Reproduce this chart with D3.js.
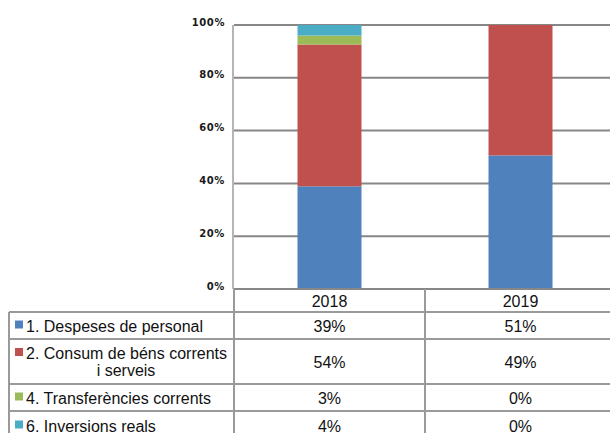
<!DOCTYPE html>
<html lang="ca">
<head>
<meta charset="UTF-8">
<title>Despeses</title>
<script src="https://d3js.org/d3.v7.min.js"></script>
<style>
  body { margin: 0; background: #fff; }
  svg { display: block; font-family: "Liberation Sans", Arial, sans-serif; }
  .tick-lbl { font-family: "DejaVu Sans", sans-serif; font-size: 10px; font-weight: bold; letter-spacing: 0.6px; fill: #1a1a1a; }
  .cell { font-size: 16px; fill: #111; }
</style>
</head>
<body>
<svg width="610" height="433"></svg>
<script>
const years = ["2018", "2019"];
const series = [
  "1. Despeses de personal",
  "2. Consum de béns corrents i serveis",
  "4. Transferències corrents",
  "6. Inversions reals"
];
const labelLines = [
  ["1. Despeses de personal"],
  ["2. Consum de béns corrents", "i serveis"],
  ["4. Transferències corrents"],
  ["6. Inversions reals"]
];
const values2018 = [38.9, 53.7, 3.4, 4.0];
const values2019 = [50.6, 49.4, 0, 0];
const tableText2018 = ["39%", "54%", "3%", "4%"];
const tableText2019 = ["51%", "49%", "0%", "0%"];
const yTicks = [0, 20, 40, 60, 80, 100];
const colors = ["#4F81BD", "#C0504D", "#9BBB59", "#4BACC6"];

const svg = d3.select("svg");

// plot area
const plotL = 234, plotR = 616, plotT = 25, plotB = 289;
const tableLeft = 9;
const rowEdges = [289, 312, 339, 384, 411, 440];

const x = d3.scaleBand().domain(years).range([plotL, plotR]).padding(0);
const y = d3.scaleLinear().domain([0, 100]).range([plotB, plotT]);
const barW = x.bandwidth() * 0.335;

// gridlines
svg.append("g")
  .selectAll("line")
  .data(yTicks.filter(d => d > 0))
  .join("line")
  .attr("x1", plotL).attr("x2", plotR)
  .attr("y1", d => y(d)).attr("y2", d => y(d))
  .attr("stroke", "#878787").attr("stroke-width", 2);

// stacked bars
const rows = years.map((yr, i) => {
  const vals = i === 0 ? values2018 : values2019;
  const row = { year: yr };
  series.forEach((s, j) => row[s] = vals[j]);
  return row;
});
const stacked = d3.stack().keys(series)(rows);

svg.append("g")
  .selectAll("g")
  .data(stacked)
  .join("g")
  .attr("fill", (d, i) => colors[i])
  .selectAll("rect")
  .data(d => d)
  .join("rect")
  .attr("x", d => x(d.data.year) + (x.bandwidth() - barW) / 2)
  .attr("width", barW)
  .attr("y", d => y(d[1]))
  .attr("height", d => y(d[0]) - y(d[1]));

// y axis
svg.append("line")
  .attr("x1", plotL - 1).attr("x2", plotL - 1)
  .attr("y1", plotT).attr("y2", plotB)
  .attr("stroke", "#b5b5b5").attr("stroke-width", 2);

svg.append("g")
  .selectAll("text")
  .data(yTicks)
  .join("text")
  .attr("class", "tick-lbl")
  .attr("x", 225)
  .attr("y", d => y(d) + 0.5)
  .attr("text-anchor", "end")
  .text(d => d + "%");

// data table
const lineColor = "#9a9a9a";
const tg = svg.append("g");

// horizontal lines
rowEdges.slice(0, 5).forEach((ry, i) => {
  tg.append("line")
    .attr("x1", i === 0 ? plotL : tableLeft).attr("x2", plotR)
    .attr("y1", ry).attr("y2", ry)
    .attr("stroke", i === 0 ? "#878787" : lineColor)
    .attr("stroke-width", 2);
});
// vertical lines
[tableLeft, plotL, x("2019")].forEach((vx, i) => {
  tg.append("line")
    .attr("x1", vx).attr("x2", vx)
    .attr("y1", i === 0 ? rowEdges[1] : rowEdges[0]).attr("y2", 433)
    .attr("stroke", lineColor).attr("stroke-width", 2);
});

// header years
tg.selectAll(".yr")
  .data(years)
  .join("text")
  .attr("class", "cell yr")
  .attr("x", d => x(d) + x.bandwidth() / 2)
  .attr("y", (rowEdges[0] + rowEdges[1]) / 2 + 6)
  .attr("text-anchor", "middle")
  .text(d => d);

// series rows
series.forEach((s, i) => {
  const r0 = rowEdges[i + 1], r1 = rowEdges[i + 2];
  const mid = (r0 + r1) / 2;
  const lines = labelLines[i];
  const lineH = 17;
  const firstY = mid - (lines.length - 1) * lineH / 2 + 6;
  tg.append("rect")
    .attr("x", 15).attr("y", firstY - 11)
    .attr("width", 8).attr("height", 8)
    .attr("fill", colors[i]);
  lines.forEach((ln, k) => {
    tg.append("text")
      .attr("class", "cell")
      .attr("x", k === 0 ? 26 : 126)
      .attr("y", firstY + k * lineH)
      .attr("text-anchor", k === 0 ? "start" : "middle")
      .text(ln);
  });
  [tableText2018[i], tableText2019[i]].forEach((t, j) => {
    tg.append("text")
      .attr("class", "cell")
      .attr("x", x(years[j]) + x.bandwidth() / 2)
      .attr("y", mid + 6)
      .attr("text-anchor", "middle")
      .text(t);
  });
});
</script>
</body>
</html>
